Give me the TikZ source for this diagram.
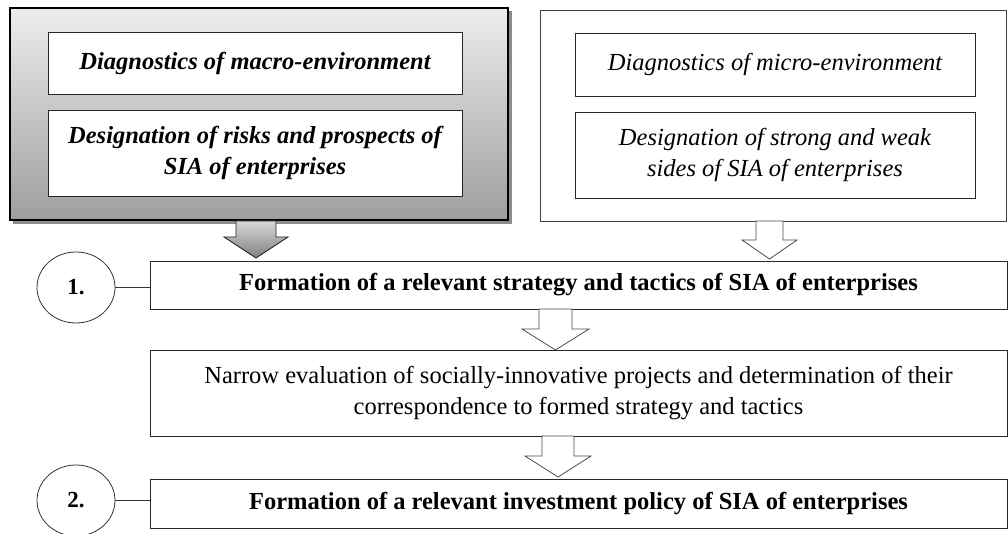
\documentclass[tikz,border=0pt]{standalone}
\usepackage{fontspec}
\setmainfont{Liberation Serif}
\usetikzlibrary{shapes.geometric}
\begin{document}
\begin{tikzpicture}[x=1pt,y=-1pt,
  txt/.style={font=\fontsize{24.5}{31}\selectfont},
  box/.style={draw=black!85, line width=0.8pt, fill=white, inner sep=0pt, align=center, txt},
  outerbox/.style={draw=black!75, line width=0.8pt, fill=white, inner sep=0pt},
  graybox/.style={draw=black, line width=1.6pt, top color=black!7, bottom color=black!38, inner sep=0pt},
  numcirc/.style={ellipse, draw=black!80, line width=0.8pt, fill=white, minimum width=78pt, minimum height=71pt, inner sep=0pt, font=\fontsize{23}{24}\selectfont\bfseries},
  blockarrow/.style={draw=black!70, line width=0.8pt, fill=white},
  grayarrow/.style={draw=black!85, line width=0.9pt, top color=black!15, bottom color=black!50},
  link/.style={draw=black!80, line width=0.8pt}]
\useasboundingbox (0,0) rectangle (1008,534);

% left gray box with shadow
\fill[black!45] (13,11) rectangle (512,224);
\node[graybox, minimum width=498pt, minimum height=212pt] (L) at (259,114) {};
\node[box, minimum width=414pt, minimum height=62pt] (L1) at (255,63) {\bfseries\itshape Diagnostics of macro-environment};
\node[box, minimum width=414pt, minimum height=86pt] (L2) at (255,153) {\bfseries\itshape Designation of risks and prospects of\\\bfseries\itshape SIA of enterprises};

% right box
\node[outerbox, minimum width=466pt, minimum height=211pt] (R) at (773,115.5) {};
\node[box, minimum width=400pt, minimum height=63pt] (R1) at (775,64.5) {\itshape Diagnostics of micro-environment};
\node[box, minimum width=400pt, minimum height=86pt] (R2) at (775,155) {\itshape Designation of strong and weak\\\itshape sides of SIA of enterprises};

% main boxes
\node[box, minimum width=857pt, minimum height=48pt] (B1) at (578.5,285) {\bfseries Formation of a relevant strategy and tactics of SIA of enterprises};
\node[box, minimum width=857pt, minimum height=86pt] (N) at (578.5,393) {Narrow evaluation of socially-innovative projects and determination of their\\correspondence to formed strategy and tactics};
\node[box, minimum width=857pt, minimum height=49pt] (B2) at (578.5,503.5) {\bfseries Formation of a relevant investment policy of SIA of enterprises};

% numbered circles
\node[numcirc] (C1) at (76,287.5) {1.};
\node[numcirc] (C2) at (76,500.5) {2.};
\draw[link] (C1.east) -- (C1.east -| B1.west);
\draw[link] (C2.east) -- (C2.east -| B2.west);

% block arrows
\path[grayarrow] (236,221) -- (276,221) -- (276,237) -- (288,237) -- (256,258) -- (224,237) -- (236,237) -- cycle;
\path[blockarrow] (756,221) -- (783,221) -- (783,240) -- (797,240) -- (769.5,259) -- (742,240) -- (756,240) -- cycle;
\path[blockarrow] (539,309) -- (572,309) -- (572,329) -- (589,329) -- (555.5,350) -- (522,329) -- (539,329) -- cycle;
\path[blockarrow] (542,436) -- (574,436) -- (574,456) -- (591,456) -- (558,477) -- (525,456) -- (542,456) -- cycle;
\end{tikzpicture}
\end{document}
